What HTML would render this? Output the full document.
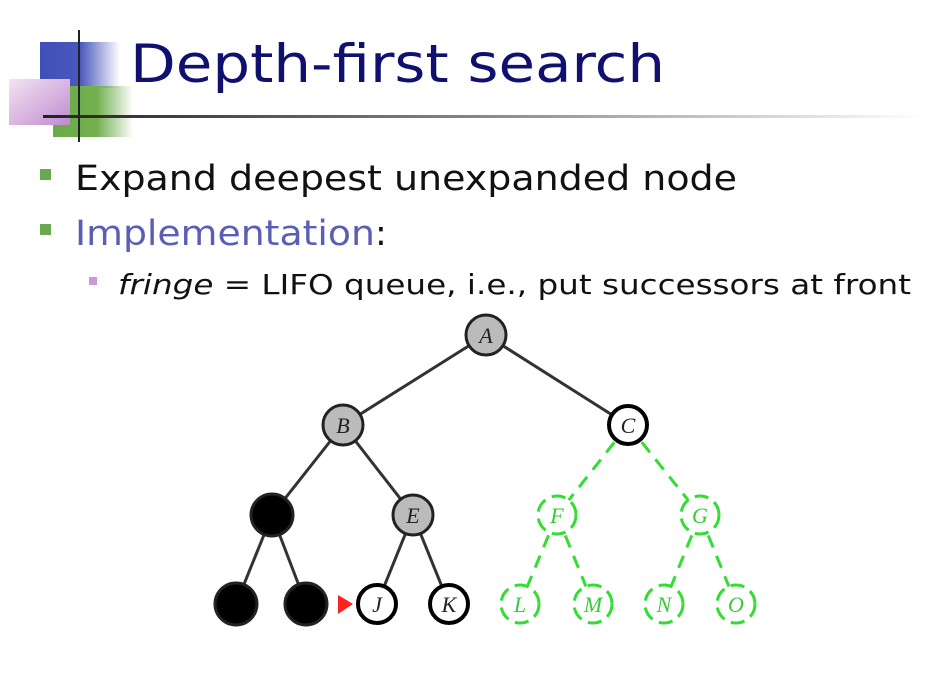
<!DOCTYPE html>
<html><head><meta charset="utf-8"><style>
html,body{margin:0;padding:0;background:#fff;}
svg{display:block;}
</style></head><body>
<svg width="940" height="683" viewBox="0 0 940 683" xmlns="http://www.w3.org/2000/svg" font-family="'DejaVu Sans','Liberation Sans',sans-serif">
<defs>
<linearGradient id="gb" x1="0" x2="1"><stop offset="0" stop-color="#4050b8"/><stop offset="0.5" stop-color="#4a58bc"/><stop offset="1" stop-color="#4a58bc" stop-opacity="0"/></linearGradient>
<linearGradient id="gg" x1="0" x2="1"><stop offset="0" stop-color="#6aaa48"/><stop offset="0.55" stop-color="#72b050"/><stop offset="1" stop-color="#72b050" stop-opacity="0"/></linearGradient>
<linearGradient id="gp" x1="0" y1="0" x2="1" y2="1"><stop offset="0" stop-color="#f4e4f2"/><stop offset="1" stop-color="#c08ad0"/></linearGradient>
<linearGradient id="gl" x1="0" x2="1"><stop offset="0" stop-color="#222"/><stop offset="0.5" stop-color="#888"/><stop offset="1" stop-color="#fff"/></linearGradient>
</defs>
<rect x="40" y="42" width="80" height="46" fill="url(#gb)"/>
<rect x="53" y="86" width="80" height="51" fill="url(#gg)"/>
<rect x="9" y="79" width="61" height="46" fill="url(#gp)"/>
<rect x="43" y="115" width="880" height="3" fill="url(#gl)"/>
<rect x="78" y="30" width="2" height="112" fill="#222"/>
<text x="130" y="82" font-size="53" fill="#10106e" textLength="535" lengthAdjust="spacingAndGlyphs">Depth-first search</text>
<rect x="40" y="169" width="11" height="11" fill="#6aa84f"/>
<text x="75" y="190" font-size="35" fill="#111" textLength="662" lengthAdjust="spacingAndGlyphs">Expand deepest unexpanded node</text>
<rect x="40" y="224" width="11" height="11" fill="#6aa84f"/>
<text x="75" y="245" font-size="35" fill="#5b5fb4" textLength="300" lengthAdjust="spacingAndGlyphs">Implementation</text>
<text x="375" y="245" font-size="35" fill="#111">:</text>
<rect x="89" y="277" width="8" height="8" fill="#c89ad6"/>
<text x="118" y="294" font-size="28" fill="#111" textLength="793" lengthAdjust="spacingAndGlyphs"><tspan font-style="italic">fringe</tspan> = LIFO queue, i.e., put successors at front</text>
<g stroke="#333" stroke-width="3">
<line x1="486" y1="335" x2="343" y2="425"/><line x1="486" y1="335" x2="628" y2="425"/>
<line x1="343" y1="425" x2="272" y2="515"/><line x1="343" y1="425" x2="413" y2="515"/>
<line x1="272" y1="515" x2="236" y2="604"/><line x1="272" y1="515" x2="306" y2="604"/>
<line x1="413" y1="515" x2="377" y2="604"/><line x1="413" y1="515" x2="449" y2="604"/>
</g>
<g stroke="#33dd33" stroke-width="3" stroke-dasharray="13,9" fill="none">
<line x1="628" y1="425" x2="557" y2="515"/><line x1="628" y1="425" x2="700" y2="515"/>
<line x1="557" y1="515" x2="520" y2="604"/><line x1="557" y1="515" x2="593" y2="604"/>
<line x1="700" y1="515" x2="664" y2="604"/><line x1="700" y1="515" x2="736" y2="604"/>
</g>
<g stroke="#222" stroke-width="3">
<circle cx="486" cy="335" r="20" fill="#bbb"/>
<circle cx="343" cy="425" r="20" fill="#bbb"/>
<circle cx="413" cy="515" r="20" fill="#bbb"/>
<circle cx="628" cy="425" r="19" fill="#fff" stroke="#000" stroke-width="4"/>
<circle cx="377" cy="604" r="19" fill="#fff" stroke="#000" stroke-width="4"/>
<circle cx="449" cy="604" r="19" fill="#fff" stroke="#000" stroke-width="4"/>
<circle cx="272" cy="515" r="21" fill="#000"/>
<circle cx="236" cy="604" r="21" fill="#000"/>
<circle cx="306" cy="604" r="21" fill="#000"/>
</g>
<g stroke="#33dd33" stroke-width="3" stroke-dasharray="14,7" fill="#fff">
<circle cx="557" cy="515" r="19"/><circle cx="700" cy="515" r="19"/>
<circle cx="520" cy="604" r="19"/><circle cx="593" cy="604" r="19"/>
<circle cx="664" cy="604" r="19"/><circle cx="736" cy="604" r="19"/>
</g>
<polygon points="338,595 338,614 353,604" fill="#ff2020"/>
<g font-family="'Liberation Serif',serif" font-style="italic" font-size="22" text-anchor="middle">
<text x="486" y="343" fill="#222">A</text><text x="343" y="433" fill="#222">B</text>
<text x="628" y="433" fill="#222">C</text><text x="413" y="523" fill="#222">E</text>
<text x="377" y="612" fill="#222">J</text><text x="449" y="612" fill="#222">K</text>
<g fill="#33cc33"><text x="557" y="523">F</text><text x="700" y="523">G</text>
<text x="520" y="612">L</text><text x="593" y="612">M</text>
<text x="664" y="612">N</text><text x="736" y="612">O</text></g>
</g>
</svg>
</body></html>
